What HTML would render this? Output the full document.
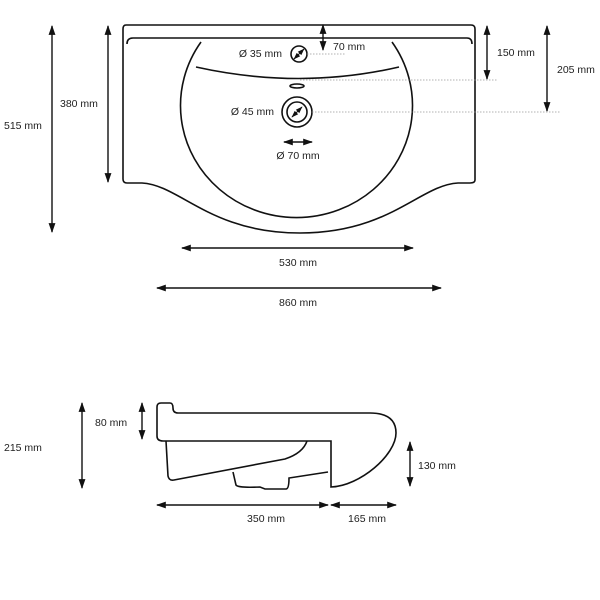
<!DOCTYPE html>
<html><head><style>body{margin:0;background:#fff}svg{display:block}text{font-family:"Liberation Sans",sans-serif;font-size:10.5px;fill:#222}</style></head><body>
<svg width="600" height="600" viewBox="0 0 600 600">
<defs><marker id="a" viewBox="0 0 10 10" refX="9" refY="5" markerWidth="9" markerHeight="7" orient="auto-start-reverse"><path d="M0,1.5L10,5L0,8.5z" fill="#111"/></marker></defs>
<g fill="none" stroke="#111" stroke-width="1.6">
<path d="M126,25H471Q475,25 475,29V180Q475,183 470,183H458C420,185 390,233 300,233C210,233 180,185 142,183H127Q123,183 123,179V29Q123,25 126,25Z"/>
<path d="M127,44Q127,38 133,38H467Q472,38 472,44"/>
<path d="M201,42A116,112 0 1 0 392,42"/>
<path d="M196,67Q300,90 399,67"/>
<ellipse cx="297" cy="86" rx="7" ry="2"/>
<circle cx="299" cy="54" r="8"/>
<circle cx="297" cy="112" r="15"/><circle cx="297" cy="112" r="10"/>
<path d="M170,403H161Q157,403 157,407V436Q157,441 163,441H331V487C360,486 396,455 396,433Q396,413 370,413H178Q173,413 173,408Q173,403 170,403Z"/>
<path d="M166,441L168,476Q169,481 174,480L285,459Q303,453 307,441"/>
<path d="M233,472L236,485Q238,488 260,487L265,489H286Q289,489 289,478L328,472"/>
</g>
<g stroke="#111" stroke-width="1.4" fill="none" marker-start="url(#a)" marker-end="url(#a)">
<line x1="294" y1="59" x2="304" y2="49" stroke-width="1"/>
<line x1="292" y1="117" x2="302" y2="107" stroke-width="1"/>
<line x1="323" y1="25" x2="323" y2="50"/>
<line x1="284" y1="142" x2="312" y2="142"/>
<line x1="487" y1="26" x2="487" y2="79"/>
<line x1="547" y1="26" x2="547" y2="111"/>
<line x1="52" y1="26" x2="52" y2="232"/>
<line x1="108" y1="26" x2="108" y2="182"/>
<line x1="182" y1="248" x2="413" y2="248"/>
<line x1="157" y1="288" x2="441" y2="288"/>
<line x1="82" y1="403" x2="82" y2="488"/>
<line x1="142" y1="403" x2="142" y2="439"/>
<line x1="410" y1="442" x2="410" y2="486"/>
<line x1="157" y1="505" x2="328" y2="505"/>
<line x1="331" y1="505" x2="396" y2="505"/>
</g>
<g stroke="#999" stroke-width="0.8" stroke-dasharray="1.5,1.5">
<line x1="307" y1="54" x2="345" y2="54"/>
<line x1="300" y1="80" x2="497" y2="80"/>
<line x1="312" y1="112" x2="560" y2="112"/>
</g>
<text x="333" y="50">70 mm</text>
<text x="282" y="57" text-anchor="end">Ø 35 mm</text>
<text x="274" y="115" text-anchor="end">Ø 45 mm</text>
<text x="298" y="159" text-anchor="middle">Ø 70 mm</text>
<text x="497" y="56">150 mm</text>
<text x="557" y="73">205 mm</text>
<text x="4" y="129">515 mm</text>
<text x="60" y="107">380 mm</text>
<text x="298" y="266" text-anchor="middle">530 mm</text>
<text x="298" y="306" text-anchor="middle">860 mm</text>
<text x="4" y="451">215 mm</text>
<text x="95" y="426">80 mm</text>
<text x="418" y="469">130 mm</text>
<text x="266" y="522" text-anchor="middle">350 mm</text>
<text x="367" y="522" text-anchor="middle">165 mm</text>
</svg>
</body></html>
